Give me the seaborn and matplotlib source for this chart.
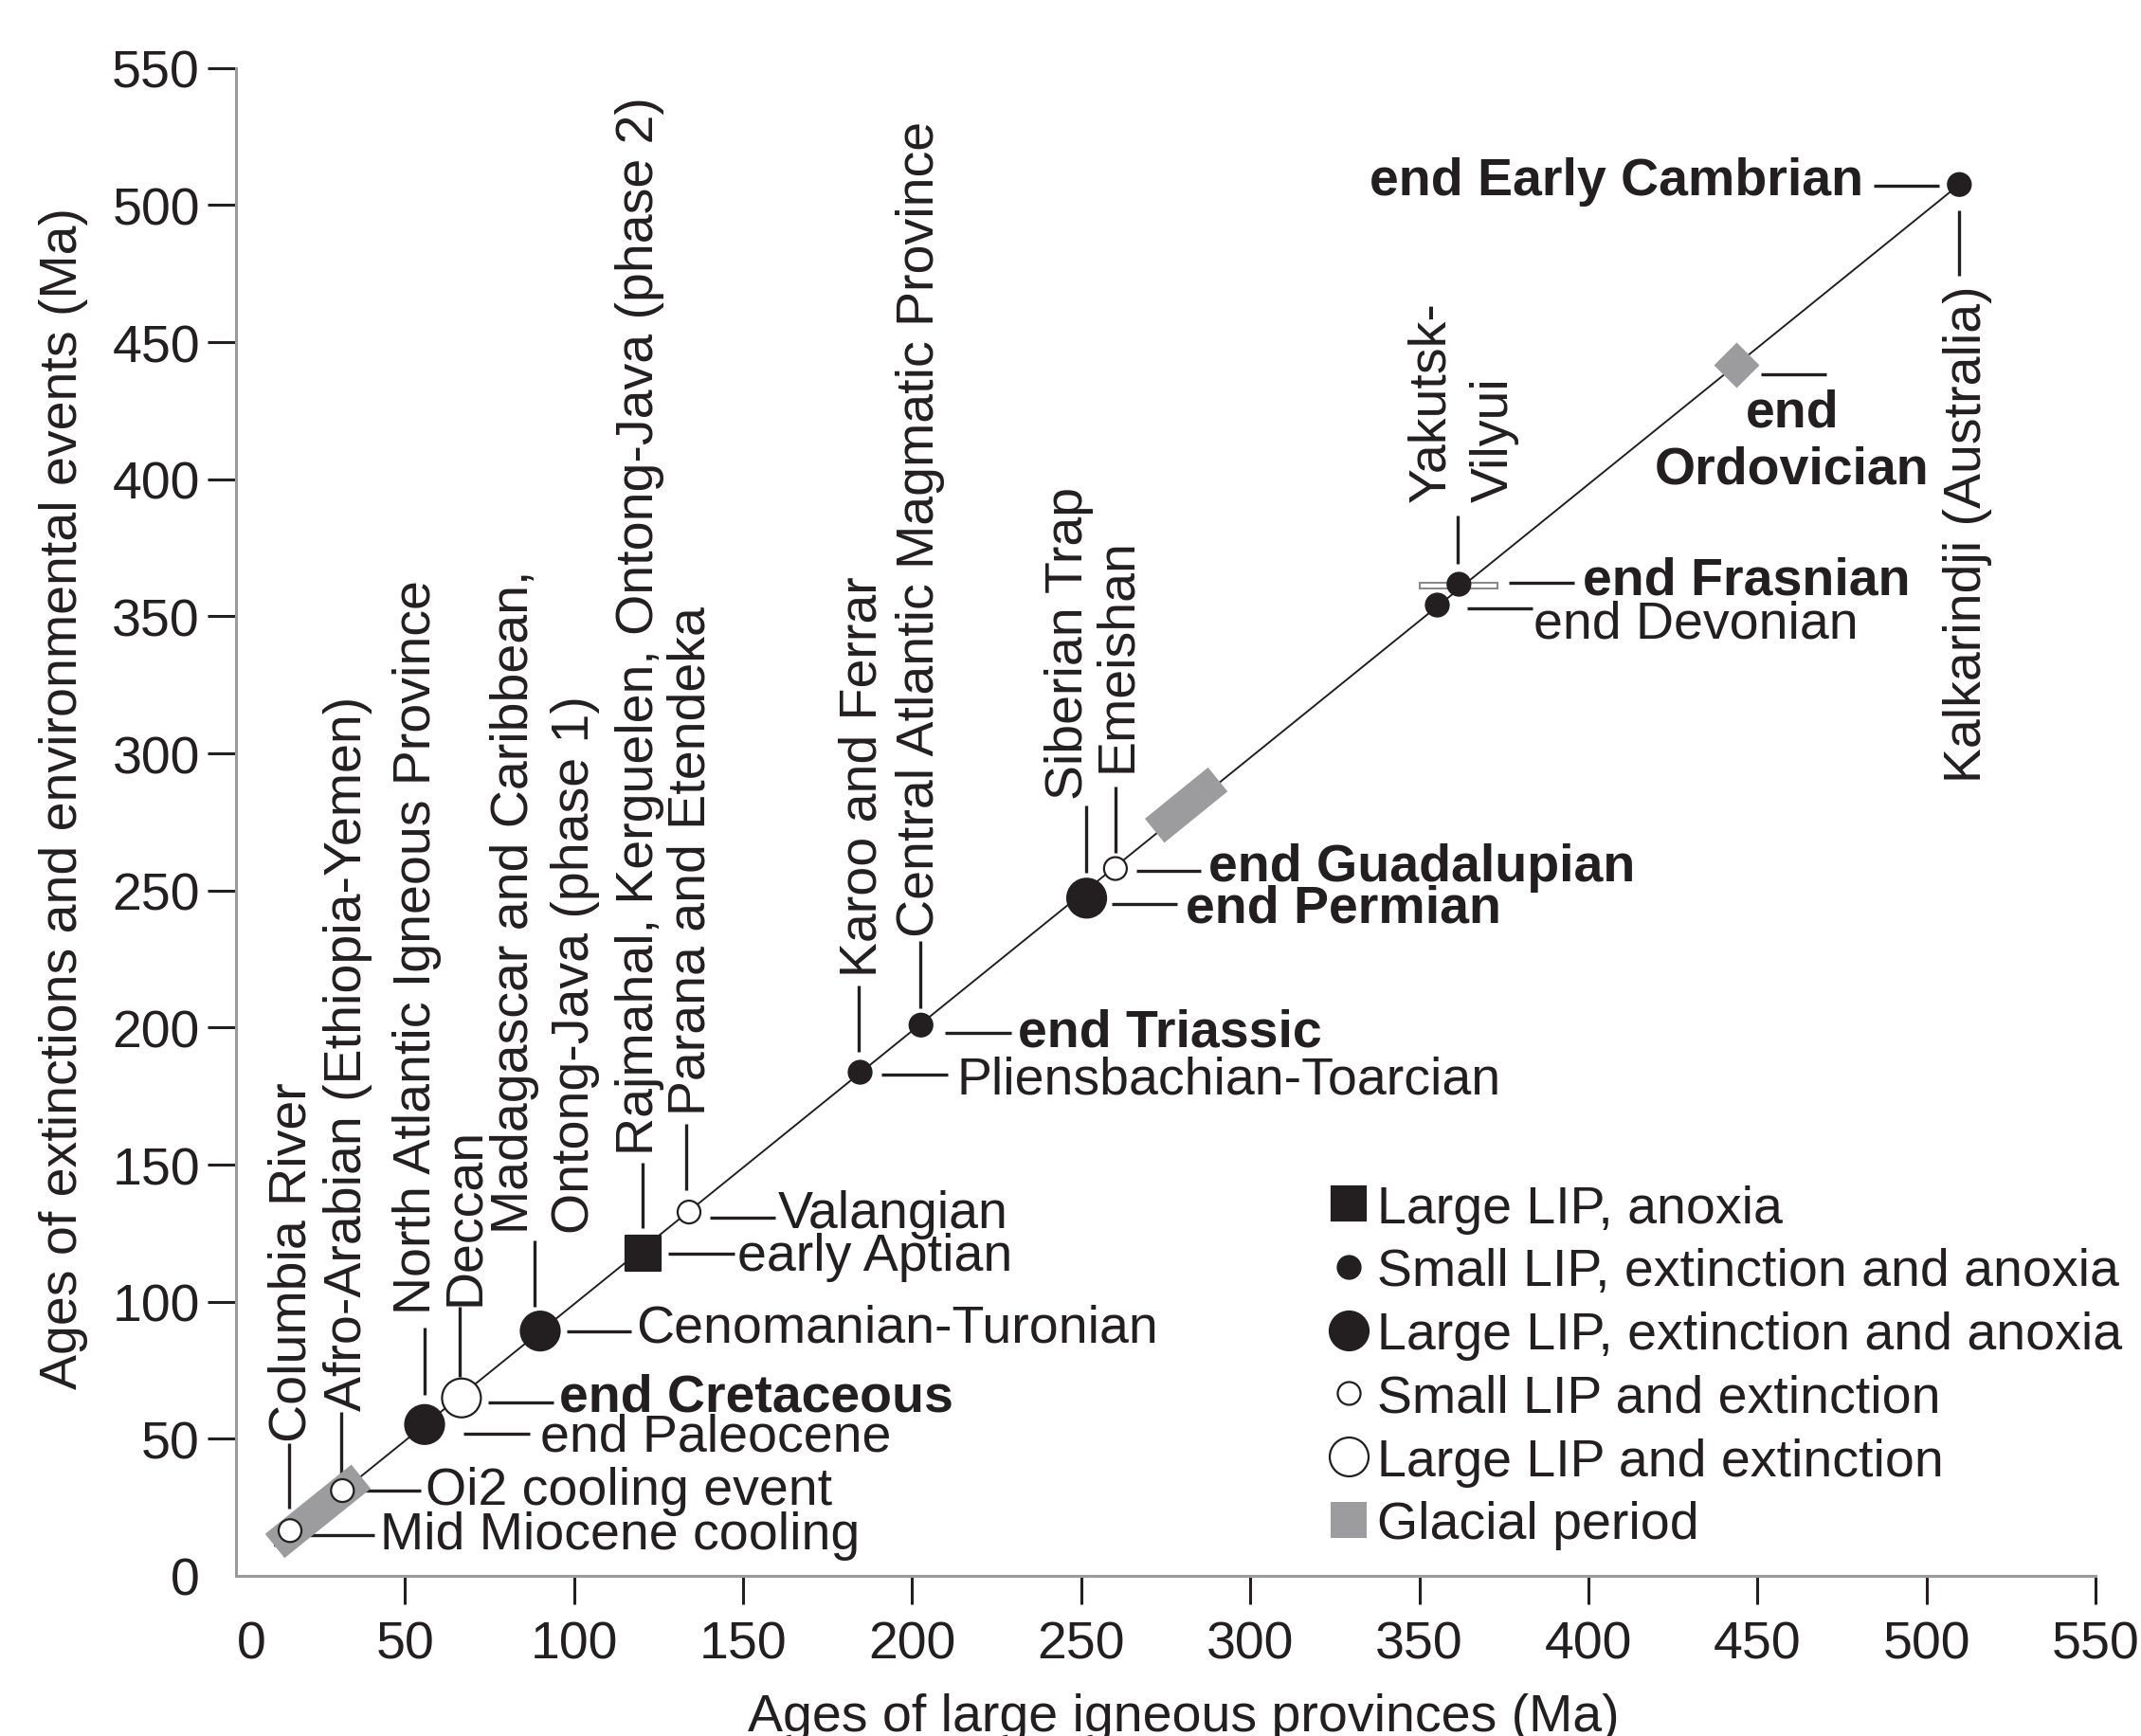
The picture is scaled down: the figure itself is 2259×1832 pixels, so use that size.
import numpy as np
import pandas as pd
import matplotlib
matplotlib.use("Agg")
import matplotlib.pyplot as plt
import seaborn as sns
from matplotlib.lines import Line2D
from matplotlib.transforms import ScaledTranslation

# ---- data: age of each LIP vs. age of the linked event (Ma)
lip_names = ["Columbia River", "Afro-Arabian", "North Atlantic", "Deccan",
             "Madagascar/Caribbean/OJ1", "Rajmahal/Kerguelen/OJ2", "Parana-Etendeka",
             "Karoo-Ferrar", "CAMP", "Siberian Trap", "Emeishan",
             "Yakutsk-Vilyui (Frasnian)", "Yakutsk-Vilyui (Devonian)", "Kalkarindji"]
lip_age = [16.0, 31.5, 55.8, 66.7, 90.0, 120.3, 134.0, 184.6, 202.6, 251.6, 260.1, 361.7, 355.3, 509.7]
event_age = [16.5, 31.1, 55.2, 64.9, 89.3, 117.8, 132.7, 183.7, 200.9, 247.2, 258.0, 361.7, 354.1, 507.5]
lip_kind = ["Small LIP and extinction", "Small LIP and extinction",
            "Large LIP, extinction and anoxia", "Large LIP and extinction",
            "Large LIP, extinction and anoxia", "Large LIP, anoxia",
            "Small LIP and extinction", "Small LIP, extinction and anoxia",
            "Small LIP, extinction and anoxia", "Large LIP, extinction and anoxia",
            "Small LIP and extinction", "Small LIP, extinction and anoxia",
            "Small LIP, extinction and anoxia", "Small LIP, extinction and anoxia"]

# glacial periods drawn along the 1:1 line (start / end, Ma)
glacial_start_x = [11.5, 271.7]
glacial_start_y = [10.9, 271.8]
glacial_end_x = [37.0, 290.4]
glacial_end_y = [36.2, 290.5]
ordovician_x = [443.7]
ordovician_y = [441.6]

# age range of the Frasnian LIP
frasnian_range = [349.9, 373.5]
frasnian_y = 361.2

kind_order = ["Large LIP, anoxia", "Small LIP, extinction and anoxia",
              "Large LIP, extinction and anoxia", "Small LIP and extinction",
              "Large LIP and extinction"]

INK = "#231f20"
GLACIAL = "#9c9c9e"
FS = 40

# ---- annotation layout (data coords)
# horizontal labels: text, x, y, ha, bold, leader x0, x1, y
hlabels = [
    ("Mid Miocene cooling", 42.6, 14.7, "left", False, 21.3, 40.9, 14.7),
    ("Oi2 cooling event", 56.2, 31.1, "left", False, 34.5, 54.6, 31.1),
    ("end Paleocene", 90.0, 50.5, "left", False, 67.2, 86.8, 51.9),
    ("end Cretaceous", 95.6, 65.0, "left", True, 74.7, 93.8, 63.1),
    ("Cenomanian-Turonian", 118.2, 90.5, "left", False, 97.8, 116.9, 89.3),
    ("early Aptian", 148.4, 116.5, "left", False, 127.8, 147.4, 117.5),
    ("Valangian", 160.4, 132.0, "left", False, 140.2, 159.6, 130.6),
    ("Pliensbachian-Toarcian", 213.3, 181.0, "left", False, 190.9, 210.5, 183.0),
    ("end Triassic", 231.2, 198.3, "left", True, 209.7, 229.3, 198.1),
    ("end Permian", 280.8, 243.4, "left", True, 259.1, 278.4, 244.9),
    ("end Guadalupian", 287.7, 258.5, "left", True, 266.2, 285.5, 257.3),
    ("end Frasnian", 398.3, 363.1, "left", True, 376.5, 395.7, 362.1),
    ("end Devonian", 383.7, 347.3, "left", False, 364.0, 383.4, 353.0),
    ("end Early Cambrian", 481.4, 508.8, "right", True, 484.5, 503.7, 507.2),
    ("end\nOrdovician", 460.3, 414.0, "center", True, 450.9, 470.3, 438.4),
]
# vertical labels: text, x, y, va, leader x, y0, y1
vlabels = [
    ("Columbia River", 15.3, 49.0, "bottom", 15.6, 24.4, 48.4),
    ("Afro-Arabian (Ethiopia-Yemen)", 31.7, 60.5, "bottom", 31.0, 32.9, 59.9),
    ("North Atlantic Igneous Province", 52.1, 95.7, "bottom", 55.8, 65.9, 90.6),
    ("Deccan", 66.4, 99.0, "bottom", 66.2, 72.5, 98.1),
    ("Madagascar and Caribbean,", 81.0, 125.0, "bottom", 88.3, 98.0, 122.4),
    ("Ontong-Java (phase 1)", 98.8, 125.0, "bottom", None, 0, 0),
    ("Rajmahal, Kerguelen, Ontong-Java (phase 2)", 117.8, 153.8, "bottom", 120.2, 126.8, 150.7),
    ("Parana and Etendeka", 133.3, 168.2, "bottom", 133.3, 140.6, 165.0),
    ("Karoo and Ferrar", 184.0, 218.8, "bottom", 184.3, 191.2, 215.4),
    ("Central Atlantic Magmatic Province", 200.8, 233.2, "bottom", 202.3, 207.1, 231.5),
    ("Siberian Trap", 245.0, 283.3, "bottom", 251.5, 256.5, 281.0),
    ("Emeishan", 259.2, 293.6, "bottom", 260.2, 263.7, 287.9),
    ("Yakutsk-", 352.0, 392.0, "bottom", 361.3, 369.0, 386.8),
    ("Vilyui", 370.8, 392.0, "bottom", None, 0, 0),
    ("Kalkarindji (Australia)", 510.5, 471.1, "top", 509.7, 474.2, 498.0),
]
VSHIFT = 1.5  # rotated text box centre sits a little left of the glyphs

sns.set_theme(style="white")
plt.rcParams["font.family"] = ["Liberation Sans", "DejaVu Sans"]
plt.rcParams["text.color"] = INK

fig = plt.figure(figsize=(22.59, 18.33), dpi=100)
ax = fig.add_axes([0.1102, 0.0922, 0.8686, 0.8681])

# 1:1 line from the youngest glacial band to the oldest LIP
ax.plot([glacial_start_x[0], max(lip_age)], [glacial_start_y[0], max(event_age)],
        color=INK, lw=1.4, zorder=2)

for x0, y0, x1, y1 in zip(glacial_start_x, glacial_start_y, glacial_end_x, glacial_end_y):
    ax.plot([x0, x1], [y0, y1], color=GLACIAL, lw=23.5, solid_capstyle="butt", zorder=3)
ax.scatter(ordovician_x, ordovician_y, marker="D", s=24.4 ** 2, color=GLACIAL,
           linewidths=0, zorder=3)

ax.plot(frasnian_range, [frasnian_y] * 2, color="#8a8a8a", lw=5.8,
        solid_capstyle="butt", zorder=3.5)
ax.plot([frasnian_range[0] + 0.6, frasnian_range[1] - 0.6], [frasnian_y] * 2,
        color="white", lw=2.9, solid_capstyle="butt", zorder=3.6)

df = pd.DataFrame({"lip": lip_age, "event": event_age, "kind": lip_kind})
palette = {"Large LIP, anoxia": INK, "Small LIP, extinction and anoxia": INK,
           "Large LIP, extinction and anoxia": INK, "Small LIP and extinction": "white",
           "Large LIP and extinction": "white"}
markers = {"Large LIP, anoxia": "s", "Small LIP, extinction and anoxia": "o",
           "Large LIP, extinction and anoxia": "o", "Small LIP and extinction": "o",
           "Large LIP and extinction": "o"}
sizes = {"Large LIP, anoxia": 26.6 ** 2, "Small LIP, extinction and anoxia": 17.3 ** 2,
         "Large LIP, extinction and anoxia": 29.5 ** 2, "Small LIP and extinction": 17.3 ** 2,
         "Large LIP and extinction": 29.5 ** 2}
sns.scatterplot(data=df, x="lip", y="event", hue="kind", style="kind", size="kind",
                hue_order=kind_order, style_order=kind_order, size_order=kind_order,
                palette=palette, markers=markers, sizes=sizes,
                edgecolor=INK, linewidth=1.6, legend=False, ax=ax, zorder=4)

# labels and leader lines
for txt, x, y, ha, bold, lx0, lx1, ly in hlabels:
    ax.text(x, y, txt, ha=ha, va="center", fontsize=FS, color=INK,
            fontweight="bold" if bold else "normal", multialignment="center")
    ax.plot([lx0, lx1], [ly, ly], color=INK, lw=2.4, solid_capstyle="butt", zorder=2)
for txt, x, y, va, lx, ly0, ly1 in vlabels:
    ax.text(x + VSHIFT, y, txt, ha="center", va=va, rotation=90, fontsize=FS, color=INK)
    if lx is not None:
        ax.plot([lx, lx], [ly0, ly1], color=INK, lw=2.4, solid_capstyle="butt", zorder=2)

# axes
ax.set_xlim(0, 550)
ax.set_ylim(0, 550)
ticks = np.arange(0, 551, 50)
ax.set_xticks(ticks)
ax.set_yticks(ticks)
ax.set_xticklabels([str(t) for t in ticks])
ax.set_yticklabels([str(t) for t in ticks])
ax.tick_params(axis="both", direction="out", length=21.6, width=2.2, colors=INK,
               labelsize=FS, left=True, bottom=True)
ax.tick_params(axis="x", pad=12)
ax.tick_params(axis="y", pad=5.8)
ax.xaxis.get_major_ticks()[0].tick1line.set_visible(False)
ax.yaxis.get_major_ticks()[0].tick1line.set_visible(False)
lbl0 = ax.get_xticklabels()[0]
lbl0.set_transform(lbl0.get_transform() + ScaledTranslation(0.16, 0, fig.dpi_scale_trans))

for side in ["top", "right"]:
    ax.spines[side].set_visible(False)
for side in ["left", "bottom"]:
    ax.spines[side].set_color("#9a9a9a")
    ax.spines[side].set_linewidth(2.2)

ax.set_xlabel("Ages of large igneous provinces (Ma)", fontsize=FS, color=INK)
ax.xaxis.set_label_coords(0.5097, -0.1025)
ax.xaxis.label.set_va("baseline")
ax.set_ylabel("Ages of extinctions and environmental events (Ma)", fontsize=FS, color=INK)
ax.yaxis.set_label_coords(-0.0925, 0.516)
ax.yaxis.label.set_va("center")

# legend
handles = [
    Line2D([], [], ls="none", marker="s", markersize=26.6, mfc=INK, mec=INK, mew=1.6),
    Line2D([], [], ls="none", marker="o", markersize=17.3, mfc=INK, mec=INK, mew=1.6),
    Line2D([], [], ls="none", marker="o", markersize=29.5, mfc=INK, mec=INK, mew=1.6),
    Line2D([], [], ls="none", marker="o", markersize=17.3, mfc="white", mec=INK, mew=1.6),
    Line2D([], [], ls="none", marker="o", markersize=29.5, mfc="white", mec=INK, mew=1.6),
    Line2D([], [], ls="none", marker="s", markersize=28.0, mfc=GLACIAL, mec=GLACIAL, mew=0),
]
leg = ax.legend(handles, kind_order + ["Glacial period"], loc="upper left",
                bbox_to_anchor=(0.6199, 0.3177), bbox_transform=fig.transFigure,
                frameon=False, fontsize=FS, handlelength=0.8, handletextpad=0.144,
                borderpad=0, borderaxespad=0, labelspacing=0.265)
for t in leg.get_texts():
    t.set_color(INK)

fig.savefig("out.png", dpi=100)
